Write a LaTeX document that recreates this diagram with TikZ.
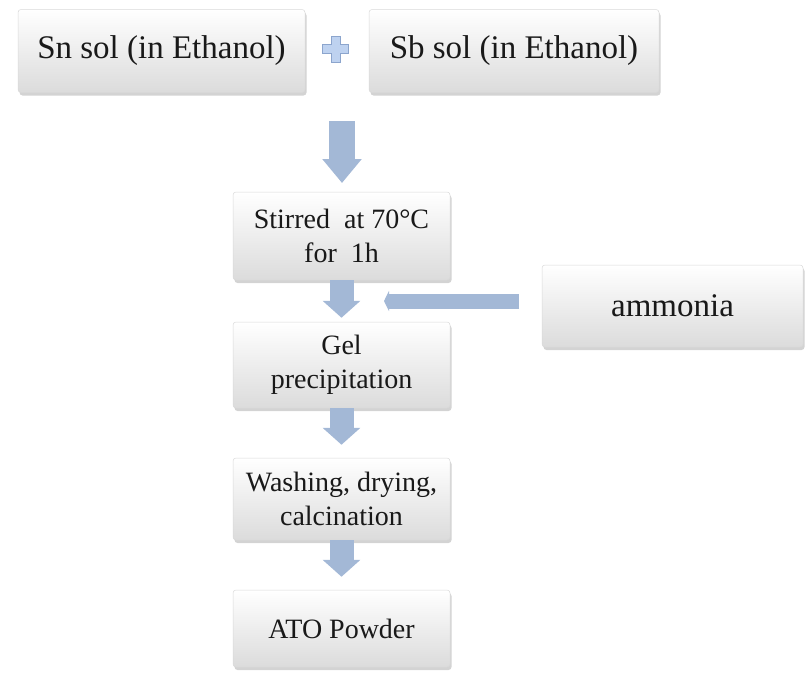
\documentclass[tikz,border=0pt]{standalone}
\usepackage{fontspec}
\setmainfont{Liberation Serif}
\usetikzlibrary{arrows.meta,shadows,calc}
\definecolor{arrblue}{RGB}{163,184,214}
\definecolor{arrdark}{RGB}{140,165,205}
\definecolor{pluscol}{RGB}{190,210,240}
\tikzset{
  pbox/.style={rectangle, rounded corners=3pt, top color=white, bottom color=gray!28,
    draw=gray!30, line width=0.5pt, inner sep=0pt, align=center, text=black!90,
    drop shadow={opacity=0.35, shadow xshift=1.5pt, shadow yshift=-3pt}},
  bigtxt/.style={font=\fontsize{33}{37}\selectfont},
  smalltxt/.style={font=\fontsize{28}{34}\selectfont},
  blockarrow/.style={draw=arrblue, line width=24pt, -{Triangle[width=37pt,length=17pt]}},
  bigarrow/.style={draw=arrblue, line width=26pt, -{Triangle[width=38pt,length=24pt]}},
  sidearrow/.style={draw=arrblue, line width=15pt, -{Triangle[width=20pt,length=5pt]}}
}
\begin{document}
\begin{tikzpicture}[x=1pt,y=-1pt]
\useasboundingbox (0,0) rectangle (805,672);
% top boxes
\node[pbox, bigtxt, minimum width=287pt, minimum height=83pt] (sn) at (161.5,51) {Sn sol (in Ethanol)};
\node[pbox, bigtxt, minimum width=290pt, minimum height=83pt] (sb) at (514,51) {Sb sol (in Ethanol)};
% plus sign
\node[inner sep=0pt, minimum size=0pt] (plus) at (335.5,49) {};
\fill[pluscol, draw=arrdark, line width=0.8pt]
  ($(plus)+(-4.5,-13)$) -- ++(9,0) -- ++(0,8.5) -- ++(8.5,0) -- ++(0,9) -- ++(-8.5,0)
  -- ++(0,8.5) -- ++(-9,0) -- ++(0,-8.5) -- ++(-8.5,0) -- ++(0,-9) -- ++(8.5,0) -- cycle;
% column boxes
\node[pbox, smalltxt, minimum width=217pt, minimum height=88pt] (stir) at (341.5,236) {Stirred\ \ at 70\textdegree C\\for\ \ 1h};
\node[pbox, smalltxt, minimum width=217pt, minimum height=86pt] (gel) at (341.5,365) {Gel\\precipitation};
\node[pbox, smalltxt, minimum width=217pt, minimum height=82pt] (wash) at (341.5,499) {Washing, drying,\\calcination};
\node[pbox, smalltxt, minimum width=217pt, minimum height=77pt] (ato) at (341.5,628.5) {ATO Powder};
\node[pbox, bigtxt, minimum width=261pt, minimum height=82pt] (amm) at (672.5,306) {ammonia};
% arrows
\coordinate (a1s) at (342,121);
\coordinate (a1e) at (342,183);
\draw[bigarrow] (a1s) -- (a1e);
\draw[blockarrow] (stir.south) -- ($(gel.north)+(0,-4)$);
\draw[blockarrow] (gel.south) -- ($(wash.north)+(0,-13)$);
\draw[blockarrow] (wash.south) -- ($(ato.north)+(0,-13)$);
\coordinate (hs) at (519,301);
\coordinate (he) at (384,301);
\draw[sidearrow] (hs) -- (he);
\end{tikzpicture}
\end{document}
